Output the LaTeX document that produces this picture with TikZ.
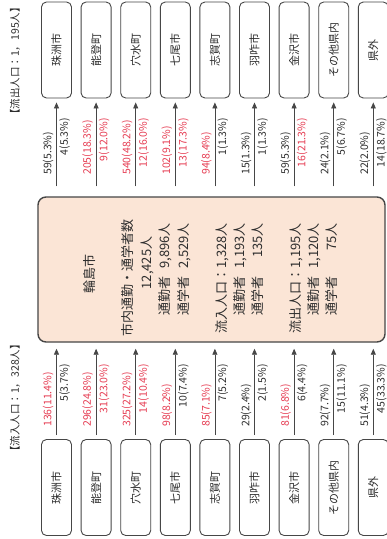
\documentclass[tikz,border=0pt]{standalone}
\usepackage{fontspec}
\setmainfont{Noto Sans CJK JP}
\usetikzlibrary{arrows.meta}
\definecolor{txtred}{RGB}{230,60,82}
\definecolor{txtblk}{RGB}{45,45,45}
\definecolor{peach}{RGB}{251,229,214}
\definecolor{edgec}{RGB}{70,70,70}
\begin{document}
\begin{tikzpicture}[x=1pt,y=1pt,
  placebox/.style={draw=edgec, line width=0.9pt, rounded corners=5pt, fill=white,
    minimum width=96pt, minimum height=30pt, inner sep=0pt,
    font=\fontsize{11}{12}\selectfont, text=txtblk},
  flowline/.style={draw=edgec, line width=0.8pt, -{Triangle[length=6pt,width=5pt]}},
  numlab/.style={inner sep=0pt, font=\fontsize{10.5}{12}\selectfont},
  ctrtxt/.style={inner sep=0pt, font=\fontsize{13}{14}\selectfont, text=txtblk},
  titletxt/.style={inner sep=0pt, font=\fontsize{10.5}{12}\selectfont, text=txtblk},
]
\useasboundingbox (0,0) rectangle (387,-539);
\fill[white] (0,0) rectangle (387,-539);
\begin{scope}[shift={(0,-539)}, rotate=90, transform shape]
  \node[draw=edgec, line width=1.4pt, fill=peach, rounded corners=8pt,
    minimum width=145pt, minimum height=347pt, inner sep=0pt] (C) at (269.5,-211.5) {};
  \node[titletxt] (TL) at (141,-15) {【流入人口：1，328人】};
  \node[titletxt] (TR) at (478,-15) {【流出人口：1，195人】};
  % centre texts
  \node[ctrtxt] (c1) at (265,-90) {輪島市};
  \node[ctrtxt] (c2) at (261,-128) {市内通勤・通学者数};
  \node[ctrtxt] (c3) at (276,-147) {12,425人};
  \node[ctrtxt, anchor=east] (c4) at (316,-165) {\makebox[92pt]{通勤者\hfill 9,896人}};
  \node[ctrtxt, anchor=east] (c5) at (316,-184) {\makebox[92pt]{通学者\hfill 2,529人}};
  \node[ctrtxt, anchor=east] (c6) at (316,-222) {流入人口：1,328人};
  \node[ctrtxt, anchor=east] (c7) at (316,-240) {\makebox[92pt]{通勤者\hfill 1,193人}};
  \node[ctrtxt, anchor=east] (c8) at (316,-258) {\makebox[92pt]{通学者\hfill 135人}};
  \node[ctrtxt, anchor=east] (c9) at (316,-296) {流出人口：1,195人};
  \node[ctrtxt, anchor=east] (c10) at (316,-314) {\makebox[92pt]{通勤者\hfill 1,120人}};
  \node[ctrtxt, anchor=east] (c11) at (316,-332) {\makebox[92pt]{通学者\hfill 75人}};
  % places, arrows, labels
  \foreach \i/\nm/\la/\ca/\lb/\cb/\ra/\cra/\rb/\crb in {
    1/珠洲市/136(11.4\%)/txtred/5(3.7\%)/txtblk/59(5.3\%)/txtblk/4(5.3\%)/txtblk,
    2/能登町/296(24.8\%)/txtred/31(23.0\%)/txtred/205(18.3\%)/txtred/9(12.0\%)/txtred,
    3/穴水町/325(27.2\%)/txtred/14(10.4\%)/txtred/540(48.2\%)/txtred/12(16.0\%)/txtred,
    4/七尾市/98(8.2\%)/txtred/10(7.4\%)/txtblk/102(9.1\%)/txtred/13(17.3\%)/txtred,
    5/志賀町/85(7.1\%)/txtred/7(5.2\%)/txtblk/94(8.4\%)/txtred/1(1.3\%)/txtblk,
    6/羽咋市/29(2.4\%)/txtblk/2(1.5\%)/txtblk/15(1.3\%)/txtblk/1(1.3\%)/txtblk,
    7/金沢市/81(6.8\%)/txtred/6(4.4\%)/txtblk/59(5.3\%)/txtblk/16(21.3\%)/txtred,
    8/その他県内/92(7.7\%)/txtblk/15(11.1\%)/txtblk/24(2.1\%)/txtblk/5(6.7\%)/txtblk,
    9/県外/51(4.3\%)/txtblk/45(33.3\%)/txtblk/22(2.0\%)/txtblk/14(18.7\%)/txtblk}{
    \pgfmathsetmacro\vv{56.5+39.6*(\i-1)}
    \node[placebox] (L\i) at (51.5,-\vv) {\nm};
    \node[placebox] (R\i) at (489,-\vv) {\nm};
    \draw[flowline, shorten <=4pt, shorten >=6pt] (L\i.east) -- (C.west |- L\i.east);
    \draw[flowline, shorten <=10pt, shorten >=4pt] (C.east |- R\i.west) -- (R\i.west);
    \node[numlab, text=\ca, anchor=west] (la\i) at (112,-\vv+8.5) {\la};
    \node[numlab, text=\cb, anchor=east] (lb\i) at (175,-\vv-8) {\lb};
    \node[numlab, text=\cra, anchor=west] (ra\i) at (364,-\vv+8.5) {\ra};
    \node[numlab, text=\crb, anchor=east] (rb\i) at (421,-\vv-8) {\rb};
  }
\end{scope}
\end{tikzpicture}
\end{document}
